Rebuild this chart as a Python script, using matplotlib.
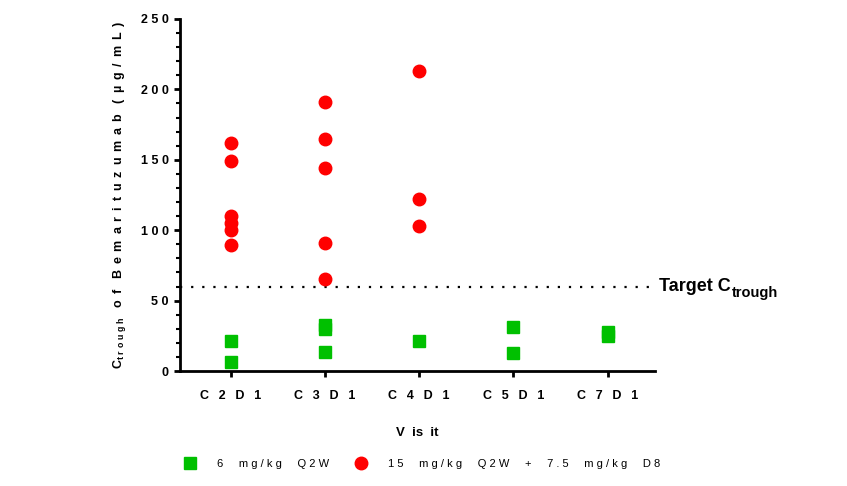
import matplotlib.pyplot as plt
import numpy as np

plt.rcParams['font.family'] = ['Liberation Sans', 'DejaVu Sans']
plt.rcParams['mathtext.fontset'] = 'custom'
plt.rcParams['mathtext.rm'] = 'Liberation Sans'
plt.rcParams['mathtext.bf'] = 'Liberation Sans:bold'

# Visits and trough concentrations (ug/mL)
visits = ["C2D1", "C3D1", "C4D1", "C5D1", "C7D1"]
low_dose = {
    "C2D1": [21.5, 6.5],
    "C3D1": [33, 30, 13.5],
    "C4D1": [21],
    "C5D1": [31, 12.5],
    "C7D1": [27.5, 25],
}
high_dose = {
    "C2D1": [162, 149, 110, 105, 100, 89.5],
    "C3D1": [191, 164.5, 144, 91, 65.5],
    "C4D1": [213, 122.5, 103],
}
target = 60
yticks = [0, 50, 100, 150, 200, 250]
legend_labels = ["6 mg/kg Q2W", "15 mg/kg Q2W + 7.5 mg/kg D8"]


def spaced(s, sep=" ", word_sep="   "):
    return word_sep.join(sep.join(w) for w in s.split(" "))


fig = plt.figure(figsize=(8.47, 4.86), dpi=100)
ax = fig.add_axes([0.2125, 0.2366, 0.5605, 0.7244])

for i, v in enumerate(visits):
    ys = low_dose.get(v, [])
    ax.plot([i] * len(ys), ys, linestyle="none", marker="s", markersize=9,
            color="#00c000", zorder=3)
    ys = high_dose.get(v, [])
    ax.plot([i] * len(ys), ys, linestyle="none", marker="o", markersize=9,
            color="#ff0000", zorder=3)

ax.axhline(target, color="black", linestyle=(0, (1, 4)), linewidth=1.6,
           clip_on=False, zorder=2)

ax.set_xlim(-0.54, 4.5)
ax.set_ylim(0, 250)

# "Target C" + subscript drawn as two texts
t1 = ax.text(4.55, target, "Target C", fontsize=13, fontweight="bold",
             va="center", ha="left")
ax.annotate("trough", xy=(1, 0.12), xycoords=t1, xytext=(0.5, 0),
            textcoords="offset points", fontsize=10.5, fontweight="bold",
            va="center", ha="left")

ax.set_xticks(range(len(visits)))
ax.set_xticklabels([spaced(v, " \u2002") for v in visits], fontsize=9,
                   fontweight="bold")
ax.set_yticks(yticks)
ax.set_yticklabels([spaced(str(t)) for t in yticks], fontsize=9,
                   fontweight="bold")
ax.set_yticks(np.arange(0, 251, 10), minor=True)

for s in ["top", "right"]:
    ax.spines[s].set_visible(False)
for s in ["left", "bottom"]:
    ax.spines[s].set_linewidth(2)
ax.tick_params(axis="both", which="major", width=2, length=4)
ax.tick_params(axis="y", which="major", pad=4)
ax.tick_params(axis="x", which="major", pad=10)
ax.tick_params(axis="y", which="minor", width=1.5, length=3)

ax.set_xlabel("V  is  it", fontsize=9.5, fontweight="bold", labelpad=18)
ax.set_ylabel(r"C$_{\mathbf{t\ r\ o\ u\ g\ h}}$   " +
              spaced("of Bemarituzumab (µg/mL)", " \u2009", "   "),
              fontsize=9, fontweight="bold", labelpad=9)

h1, = ax.plot([], [], linestyle="none", marker="s", markersize=9,
              color="#00c000")
h2, = ax.plot([], [], linestyle="none", marker="o", markersize=9,
              color="#ff0000")
fig.legend([h1, h2], [spaced(l, " ", "     ") for l in legend_labels],
           loc="center left", bbox_to_anchor=(0.199, 0.045), ncol=2,
           frameon=False, fontsize=8, handletextpad=1.45, columnspacing=1.9)

fig.savefig("out.png", dpi=100)
